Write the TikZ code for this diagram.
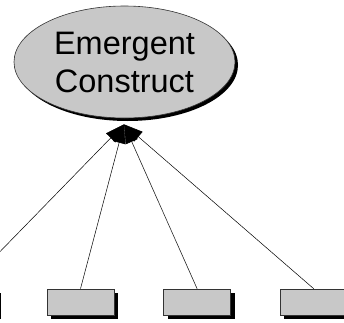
\documentclass[tikz,border=0pt]{standalone}
\usepackage{fontspec}
\setmainfont{Liberation Sans}
\usetikzlibrary{arrows.meta,positioning,shadows,shapes.geometric}
\usetikzlibrary{calc}

\definecolor{boxgray}{RGB}{200,200,200}

\begin{document}
\begin{tikzpicture}[
      x=1pt,y=1pt,
      construct/.style={
         ellipse,
         draw=black!80,
         line width=0.6pt,
         fill=boxgray,
         drop shadow={shadow xshift=3pt,shadow yshift=-3pt,fill=black,opacity=1},
         inner sep=0pt,
         minimum width=221pt,
         minimum height=112pt,
         align=center,
         font=\fontsize{32.5}{38}\selectfont},
      indicator/.style={
         rectangle,
         draw=black!80,
         line width=0.6pt,
         fill=boxgray,
         drop shadow={shadow xshift=4pt,shadow yshift=-4pt,fill=black,opacity=1},
         inner sep=0pt,
         minimum width=67pt,
         minimum height=26pt},
      myarrow/.style={-{Triangle[length=19pt,width=13pt]},line width=0.5pt},
      node distance=49pt
      ]
      \clip (0,0) rectangle (344,322);
      \node[construct] (ec) at (124.5,260) {Emergent\\Construct};
      \coordinate (tip) at ($(ec.south)+(-0.5,-6)$);
      \node[indicator] (i2) at (80.5,20) {};
      \node[indicator,left=of i2] (i1) {};
      \node[indicator,right=of i2] (i3) {};
      \node[indicator,right=of i3] (i4) {};

    \foreach \i in {i1,i2,i3,i4}% each indicator points up to the construct
       \draw [myarrow] (\i.north) -- (tip);
    \end{tikzpicture}
\end{document}
